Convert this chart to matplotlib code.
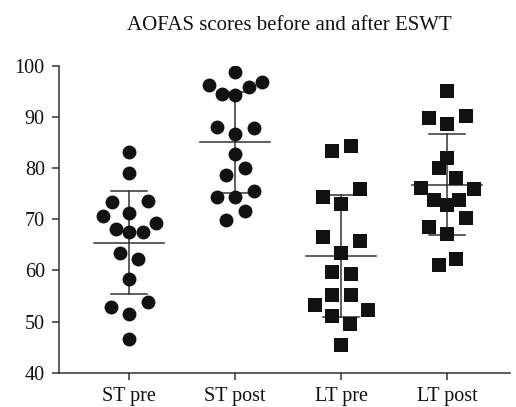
import numpy as np
import matplotlib
matplotlib.use("Agg")
import matplotlib.pyplot as plt

plt.rcParams['font.family'] = ['Liberation Serif', 'DejaVu Serif']

title = "AOFAS scores before and after ESWT"
categories = ["ST pre", "ST post", "LT pre", "LT post"]
markers = ["o", "o", "s", "s"]

st_pre = [83.1, 79.0, 73.3, 73.6, 70.7, 71.2, 69.2, 68.2, 67.5, 67.6,
          63.5, 62.2, 58.4, 52.9, 53.8, 51.5, 46.5]
st_pre_jit = [0, 0, -0.167, 0.173, -0.25, 0, 0.25, -0.126, 0, 0.126,
              -0.088, 0.085, 0, -0.173, 0.173, 0, 0]

st_post = [98.8, 96.3, 96.9, 95.8, 94.5, 94.4, 88.0, 87.8, 86.6, 82.8,
           80.1, 78.6, 74.4, 74.4, 75.5, 71.7, 69.9]
st_post_jit = [0, -0.25, 0.25, 0.126, -0.126, 0, -0.173, 0.176, 0, 0,
               0.088, -0.085, -0.173, 0, 0.176, 0.088, -0.085]

lt_pre = [83.4, 84.4, 74.4, 75.9, 72.9, 66.5, 65.8, 63.5, 59.6, 59.3,
          55.1, 55.1, 53.2, 52.3, 51.1, 49.6, 45.5]
lt_pre_jit = [-0.088, 0.088, -0.173, 0.173, 0, -0.173, 0.173, 0, -0.088, 0.088,
              -0.088, 0.088, -0.25, 0.25, -0.088, 0.079, 0]

lt_post = [95.1, 89.8, 90.2, 88.6, 81.9, 80.0, 78.0, 76.1, 75.9, 73.8,
           73.8, 72.8, 70.3, 68.4, 67.1, 61.1, 62.2]
lt_post_jit = [0, -0.173, 0.179, 0, 0, -0.079, 0.085, -0.25, 0.252, -0.126,
               0.116, 0, 0.179, -0.173, 0, -0.079, 0.085]

groups = [st_pre, st_post, lt_pre, lt_post]
jitters = [st_pre_jit, st_post_jit, lt_pre_jit, lt_post_jit]

fig = plt.figure(figsize=(5.16, 4.07), dpi=100)
ax = fig.add_axes([0.1138, 0.0843, 0.874, 0.7537])

line_c = '#333333'
for i, (vals, jit, m) in enumerate(zip(groups, jitters, markers)):
    v = np.array(vals)
    xs = i + np.array(jit)
    ax.plot(xs, v, linestyle='none', marker=m, color='#111111',
            markersize=10, markeredgewidth=0, zorder=3)
    mean = v.mean()
    sd = v.std(ddof=1)
    ax.plot([i - 0.333, i + 0.333], [mean, mean], color=line_c, lw=1.1, zorder=2)
    ax.plot([i, i], [mean - sd, mean + sd], color=line_c, lw=1.1, zorder=2)
    for yv in (mean - sd, mean + sd):
        ax.plot([i - 0.17, i + 0.17], [yv, yv], color=line_c, lw=1.1, zorder=2)

ax.set_xlim(-0.665, 3.59)
ax.set_ylim(40, 100)
ax.set_yticks([40, 50, 60, 70, 80, 90, 100])
ax.set_xticks(range(len(categories)))
ax.set_xticklabels(categories)
for s in ['top', 'right']:
    ax.spines[s].set_visible(False)
for s in ['left', 'bottom']:
    ax.spines[s].set_color(line_c)
    ax.spines[s].set_linewidth(1.1)
ax.tick_params(axis='both', direction='out', length=5, width=1.1,
               color=line_c, labelsize=14.5, labelcolor='#111111')
ax.tick_params(axis='y', pad=5)
ax.tick_params(axis='x', pad=5.5)
fig.text(289.5 / 516, 1 - 25 / 407, title, ha='center', va='center',
         fontsize=15, color='#111111')

fig.savefig("out.png", dpi=100)
